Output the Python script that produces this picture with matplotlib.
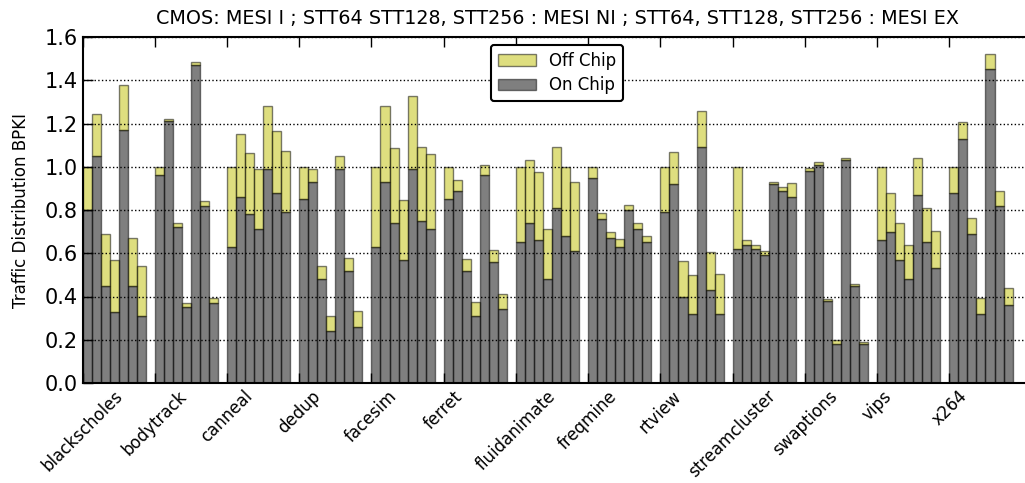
import matplotlib
matplotlib.use("Agg")
import matplotlib.pyplot as plt
import numpy as np

benchmarks = ["blackscholes", "bodytrack", "canneal", "dedup", "facesim", "ferret",
              "fluidanimate", "freqmine", "rtview", "streamcluster", "swaptions",
              "vips", "x264"]

# 7 configs per benchmark: CMOS, STT64/128/256 (MESI NI), STT64/128/256 (MESI EX)
on_chip = [
    [0.80, 1.05, 0.45, 0.33, 1.17, 0.45, 0.31],
    [0.96, 1.21, 0.72, 0.35, 1.47, 0.82, 0.37],
    [0.63, 0.86, 0.78, 0.71, 0.99, 0.88, 0.79],
    [0.85, 0.93, 0.48, 0.24, 0.99, 0.52, 0.26],
    [0.63, 0.93, 0.74, 0.57, 0.99, 0.75, 0.71],
    [0.85, 0.89, 0.52, 0.31, 0.96, 0.56, 0.34],
    [0.65, 0.74, 0.66, 0.48, 0.81, 0.68, 0.61],
    [0.95, 0.76, 0.67, 0.63, 0.80, 0.71, 0.65],
    [0.79, 0.92, 0.40, 0.32, 1.09, 0.43, 0.32],
    [0.62, 0.64, 0.62, 0.59, 0.92, 0.89, 0.86],
    [0.98, 1.01, 0.38, 0.18, 1.03, 0.45, 0.18],
    [0.66, 0.70, 0.57, 0.48, 0.87, 0.65, 0.53],
    [0.88, 1.13, 0.69, 0.32, 1.45, 0.82, 0.36],
]
total = [
    [1.00, 1.245, 0.69, 0.57, 1.38, 0.67, 0.54],
    [1.00, 1.22, 0.74, 0.37, 1.485, 0.84, 0.395],
    [1.00, 1.15, 1.065, 0.99, 1.28, 1.165, 1.075],
    [1.00, 0.99, 0.54, 0.31, 1.05, 0.58, 0.335],
    [1.00, 1.28, 1.085, 0.845, 1.325, 1.09, 1.06],
    [1.00, 0.94, 0.575, 0.375, 1.01, 0.615, 0.41],
    [1.00, 1.03, 0.975, 0.71, 1.09, 1.00, 0.93],
    [1.00, 0.785, 0.70, 0.665, 0.825, 0.74, 0.68],
    [1.00, 1.07, 0.565, 0.50, 1.26, 0.605, 0.505],
    [1.00, 0.66, 0.64, 0.61, 0.93, 0.905, 0.925],
    [0.995, 1.02, 0.39, 0.20, 1.04, 0.46, 0.19],
    [1.00, 0.88, 0.74, 0.64, 1.04, 0.81, 0.705],
    [1.00, 1.205, 0.765, 0.395, 1.52, 0.89, 0.44],
]
title = "CMOS: MESI I ; STT64 STT128, STT256 : MESI NI ; STT64, STT128, STT256 : MESI EX"

n_cfg = 7
group = n_cfg + 1

fig = plt.figure(figsize=(10.25, 4.83), dpi=100)
ax = fig.add_axes([82.5 / 1025, 100 / 483, (1085 - 82.5) / 1025, 346 / 483])

on = np.array(on_chip)
off = np.array(total) - on
for i in range(n_cfg):
    x = np.arange(len(benchmarks)) * group + i
    b1 = ax.bar(x, on[:, i], width=1, align="edge", color="k", alpha=0.5,
                edgecolor="k", linewidth=1.0)
    b2 = ax.bar(x, off[:, i], width=1, align="edge", bottom=on[:, i], color="y",
                alpha=0.5, edgecolor="k", linewidth=1.0)

ax.set_xlim(0, (1085 - 82.5) / 9.03)
ax.set_ylim(0, 1.6)
ax.set_xticks(np.arange(len(benchmarks)) * group)
ax.set_xticklabels(benchmarks, rotation=45, fontsize=12)
ax.set_yticks(np.arange(0, 1.61, 0.2))
ax.set_yticklabels(["%.1f" % v for v in np.arange(0, 1.61, 0.2)], fontsize=15)
ax.tick_params(direction="in", top=True, right=True, length=7, width=1)
ax.tick_params(axis="x", pad=3)
ax.yaxis.grid(True, linestyle=":", color="k", linewidth=1)
ax.set_axisbelow(False)
for s in ax.spines.values():
    s.set_linewidth(1.5)
ax.set_ylabel("Traffic Distribution BPKI", fontsize=12, labelpad=10)
fig.text(557 / 1025, 1 - 18 / 483, title, ha="center", va="center", fontsize=13.8)

leg = ax.legend([b2, b1], ["Off Chip", "On Chip"], loc="upper left",
                bbox_to_anchor=(491 / 1025, 1 - 45 / 483), bbox_transform=fig.transFigure,
                fontsize=12, fancybox=True, framealpha=1, borderaxespad=0,
                handlelength=2.3, labelspacing=0.4, handletextpad=0.8)
leg.get_frame().set_edgecolor("k")
leg.get_frame().set_linewidth(1.5)

fig.savefig("out.png", dpi=100)
